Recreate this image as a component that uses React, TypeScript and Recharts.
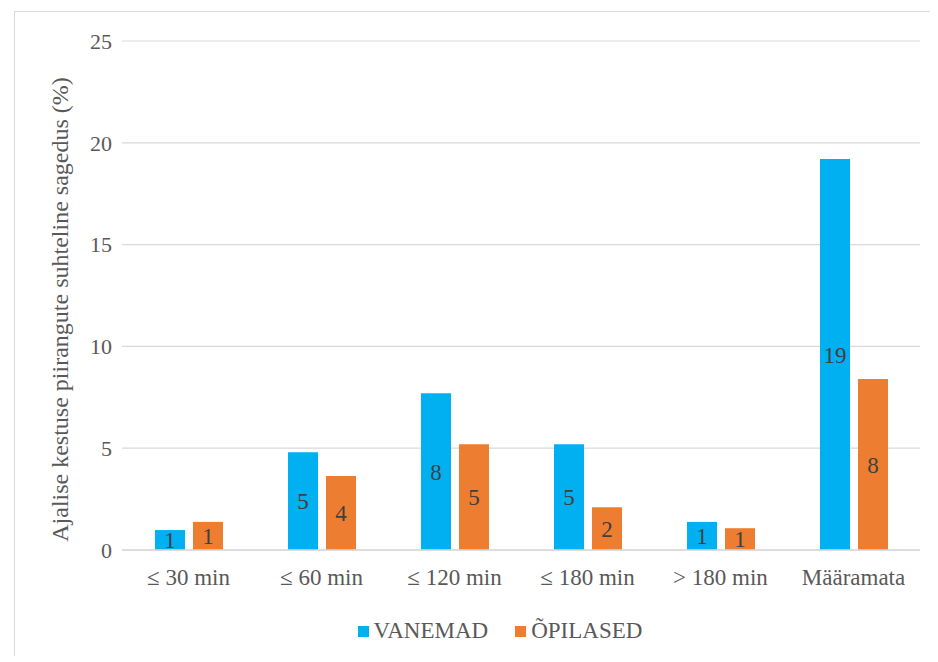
import React from "react";
import { BarChart, Bar, XAxis, YAxis, CartesianGrid, Legend, LabelList, Label } from "recharts";

const categories = ["≤ 30 min", "≤ 60 min", "≤ 120 min", "≤ 180 min", "> 180 min", "Määramata"];
const vanemad = [0.98, 4.8, 7.7, 5.2, 1.38, 19.2];
const opilased = [1.38, 3.63, 5.2, 2.1, 1.07, 8.4];
const yTicks = [0, 5, 10, 15, 20, 25];
const seriesNames = ["VANEMAD", "ÕPILASED"];
const colors = ["#00B0F0", "#ED7D31"];

const data = categories.map((c, i) => ({ name: c, v: vanemad[i], o: opilased[i] }));

const FONT = "Liberation Serif, Noto Serif, DejaVu Serif, serif";

const renderLegend = () => (
  <div style={{ display: "flex", justifyContent: "center", alignItems: "center", paddingLeft: 18, fontFamily: FONT, fontSize: 23, color: "#595959", height: 40 }}>
    {seriesNames.map((n, i) => (
      <div key={n} style={{ display: "flex", alignItems: "center", marginRight: i === 0 ? 27 : 0 }}>
        <span style={{ display: "inline-block", width: 11, height: 11, background: colors[i], marginRight: 5 }} />
        <span>{n}</span>
      </div>
    ))}
  </div>
);

const renderYLabel = (props: any) => {
  const vb = props.viewBox || {};
  const cy = (vb.y || 0) + (vb.height || 0) / 2 + 14;
  return (
    <text x={45} y={cy} transform={`rotate(-90, 45, ${cy})`} textAnchor="middle" dominantBaseline="central" fill="#595959" fontFamily={FONT} fontSize={24}>
      Ajalise kestuse piirangute suhteline sagedus (%)
    </text>
  );
};

export default function App() {
  return (
    <div style={{ marginLeft: 6, marginTop: 3, width: 916, height: 645, border: "1px solid #d9d9d9", borderRight: "none", borderBottom: "none", boxSizing: "border-box", fontFamily: FONT }}>
      <BarChart width={915} height={644} data={data} margin={{ top: 29, right: 10, bottom: 5, left: 47 }} barSize={30} barGap={8}>
        <CartesianGrid vertical={false} stroke="#d9d9d9" strokeWidth={1.2} />
        <XAxis dataKey="name" axisLine={{ stroke: "#d9d9d9", strokeWidth: 1.5 }} tickLine={false} tickSize={0} tickMargin={19} height={61} interval={0}
          tick={{ fill: "#595959", fontFamily: FONT, fontSize: 23 }} />
        <YAxis domain={[0, 25]} ticks={yTicks} axisLine={false} tickLine={false} tickSize={0} tickMargin={10} width={60}
          tick={{ fill: "#595959", fontFamily: FONT, fontSize: 22 }}>
          <Label content={renderYLabel} />
        </YAxis>
        <Legend verticalAlign="bottom" content={renderLegend} wrapperStyle={{ height: 40 }} />
        <Bar dataKey="v" name={seriesNames[0]} fill={colors[0]} isAnimationActive={false}>
          <LabelList dataKey="v" position="center" formatter={(v: any) => Math.round(Number(v))} fill="#404040" fontFamily={FONT} fontSize={23} />
        </Bar>
        <Bar dataKey="o" name={seriesNames[1]} fill={colors[1]} isAnimationActive={false}>
          <LabelList dataKey="o" position="center" formatter={(v: any) => Math.round(Number(v))} fill="#404040" fontFamily={FONT} fontSize={23} />
        </Bar>
      </BarChart>
    </div>
  );
}
